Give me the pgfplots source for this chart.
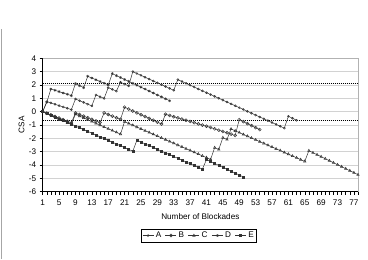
\documentclass[border=0pt]{standalone}
\usepackage{pgfplots}
\pgfplotsset{compat=1.18}
\usepackage{fontspec}
\setmainfont{Liberation Sans}
\definecolor{ln}{HTML}{333333}
\begin{document}
\begin{tikzpicture}
\begin{axis}[
  scale only axis, width=315.3bp, height=133.3bp,
  at={(0,0)}, anchor=south west,
  xmin=1, xmax=78, ymin=-6, ymax=4,
  xtick={1,5,...,77}, minor xtick={1,...,78},
  ytick={-6,-5,...,4},
  ymajorgrids, major grid style={gray!35, line width=0.5bp},
  axis x line*=bottom, axis y line*=left,
  axis line style={black, line width=0.6bp},
  tick align=outside, major tick length=3bp, minor tick length=3bp,
  tick style={black, line width=0.5bp},
  tick label style={font=\fontsize{8.2}{9}\selectfont},
  xticklabel style={yshift=-1.5bp},
  /pgf/number format/assume math mode=true,
  xlabel={Number of Blockades}, ylabel={CSA},
  label style={font=\fontsize{8.2}{9}\selectfont},
  xlabel style={at={(axis description cs:0.5,-0.19)}, anchor=center},
  ylabel style={at={(axis description cs:-0.067,0.5)}, anchor=center},
  legend columns=5,
  legend style={at={(axis description cs:0.496,-0.28)}, anchor=north, draw=black, line width=0.5bp,
    font=\fontsize{8.2}{9}\selectfont, inner sep=0.8bp, /tikz/every even column/.append style={column sep=2bp}},
  legend image code/.code={\draw[mark repeat=2,mark phase=2] plot coordinates {(0bp,0bp)(5.5bp,0bp)(11bp,0bp)};},
  every axis plot/.append style={ln, line width=0.5bp, mark size=1.2bp},
  clip=false,
]
\draw[gray!60, line width=0.5bp] (rel axis cs:0,1) -- (rel axis cs:1,1) -- (rel axis cs:1,0);
\addplot[forget plot, black, line width=0.9bp, dash pattern=on 1bp off 1bp] coordinates {(1,2.1) (78,2.1)};
\addplot[forget plot, black, line width=0.9bp, dash pattern=on 1bp off 1bp] coordinates {(1,-0.7) (78,-0.7)};
\addplot[mark=o, mark options={fill=white, solid}, mark size=1bp] table {
1 0
2 0.75
3 0.65
4 0.55
5 0.45
6 0.35
7 0.25
8 0.15
9 0.95
10 0.82
11 0.69
12 0.56
13 0.43
14 1.25
15 1.12
16 0.99
17 1.8
18 1.67
19 1.54
20 2.2
21 2.07
22 1.93
23 3.0
24 2.86
25 2.72
26 2.58
27 2.44
28 2.30
29 2.16
30 2.02
31 1.88
32 1.74
33 1.60
34 2.40
35 2.26
36 2.12
37 1.98
38 1.84
39 1.70
40 1.56
41 1.42
42 1.28
43 1.14
44 1.00
45 0.86
46 0.72
47 0.58
48 0.44
49 0.30
50 0.16
51 0.02
52 -0.12
53 -0.26
54 -0.40
55 -0.54
56 -0.68
57 -0.82
58 -0.96
59 -1.10
60 -1.24
61 -0.35
62 -0.50
63 -0.65
};
\addlegendentry{A}
\addplot[mark=o, mark options={fill=white, solid}, mark size=1.5bp] table {
1 0
2 -0.12
3 -0.24
4 -0.36
5 -0.48
6 -0.60
7 -0.72
8 -0.84
9 -0.10
10 -0.22
11 -0.34
12 -0.46
13 -0.58
14 -0.70
15 -0.82
16 -0.10
17 -0.22
18 -0.34
19 -0.46
20 -0.58
21 0.33
22 0.19
23 0.05
24 -0.09
25 -0.23
26 -0.37
27 -0.51
28 -0.65
29 -0.79
30 -0.93
31 -0.20
32 -0.29
33 -0.38
34 -0.47
35 -0.56
36 -0.65
37 -0.74
38 -0.83
39 -0.92
40 -1.01
41 -1.10
42 -1.19
43 -1.29
44 -1.39
45 -1.49
46 -1.59
47 -1.69
48 -1.79
49 -0.60
50 -0.75
51 -0.90
52 -1.05
53 -1.20
54 -1.35
};
\addlegendentry{B}
\addplot[mark=triangle, mark options={fill=white, solid}, mark size=1.4bp] table {
1 0
2 -0.13
3 -0.27
4 -0.40
5 -0.54
6 -0.67
7 -0.81
8 -0.94
9 -0.20
10 -0.34
11 -0.47
12 -0.61
13 -0.74
14 -0.88
15 -1.01
16 -1.15
17 -1.28
18 -1.42
19 -1.55
20 -1.69
21 -0.75
22 -0.89
23 -1.02
24 -1.16
25 -1.29
26 -1.43
27 -1.56
28 -1.70
29 -1.83
30 -1.97
31 -2.10
32 -2.24
33 -2.37
34 -2.51
35 -2.64
36 -2.78
37 -2.91
38 -3.05
39 -3.18
40 -3.32
41 -3.45
42 -3.59
43 -2.70
44 -2.84
45 -1.95
46 -2.09
47 -1.30
48 -1.44
49 -1.57
50 -1.71
51 -1.84
52 -1.98
53 -2.11
54 -2.25
55 -2.38
56 -2.52
57 -2.65
58 -2.79
59 -2.92
60 -3.06
61 -3.19
62 -3.33
63 -3.46
64 -3.60
65 -3.73
66 -2.93
67 -3.08
68 -3.23
69 -3.38
70 -3.53
71 -3.68
72 -3.83
73 -3.98
74 -4.13
75 -4.28
76 -4.43
77 -4.58
78 -4.73
};
\addlegendentry{C}
\addplot[mark=asterisk, mark size=1.4bp] table {
1 0
2 0.7
3 1.7
4 1.6
5 1.5
6 1.4
7 1.3
8 1.2
9 2.1
10 1.95
11 1.8
12 2.65
13 2.52
14 2.39
15 2.26
16 2.13
17 2.0
18 2.85
19 2.70
20 2.56
21 2.41
22 2.27
23 2.12
24 1.98
25 1.83
26 1.69
27 1.54
28 1.40
29 1.25
30 1.11
31 0.96
32 0.82
};
\addlegendentry{D}
\addplot[mark=square*, mark size=1bp] table {
1 0
2 -0.13
3 -0.27
4 -0.40
5 -0.54
6 -0.67
7 -0.81
8 -0.94
9 -1.08
10 -1.21
11 -1.35
12 -1.48
13 -1.62
14 -1.75
15 -1.89
16 -2.02
17 -2.16
18 -2.29
19 -2.43
20 -2.56
21 -2.70
22 -2.83
23 -2.97
24 -2.15
25 -2.29
26 -2.42
27 -2.56
28 -2.69
29 -2.83
30 -2.96
31 -3.10
32 -3.23
33 -3.37
34 -3.50
35 -3.64
36 -3.77
37 -3.91
38 -4.04
39 -4.18
40 -4.31
41 -3.60
42 -3.74
43 -3.89
44 -4.03
45 -4.18
46 -4.32
47 -4.47
48 -4.61
49 -4.76
50 -4.90
};
\addlegendentry{E}
\end{axis}
\draw[gray!70, line width=0.8bp] (-41.3bp,-67.4bp) -- (-41.3bp,163bp);
\useasboundingbox (-42.7bp,-67.4bp) rectangle (325.3bp,191.6bp);
\end{tikzpicture}
\end{document}
